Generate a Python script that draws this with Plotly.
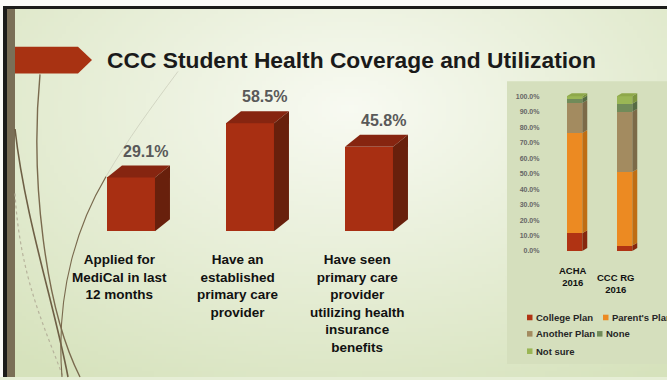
import base64
import struct
import zlib

import numpy as np
import plotly.graph_objects as go

W, H = 667, 380

# ---------------- data ----------------
categories = [
    "Applied for<br>MediCal in last<br>12 months",
    "Have an<br>established<br>primary care<br>provider",
    "Have seen<br>primary care<br>provider<br>utilizing health<br>insurance<br>benefits",
]
values = [29.1, 58.5, 45.8]
value_labels = ["29.1%", "58.5%", "45.8%"]

groups = ["ACHA<br>2016", "CCC RG<br>2016"]
series_names = ["College Plan", "Parent's Plan", "Another Plan", "None", "Not sure"]
college_plan = [11.5, 3.5]
parents_plan = [64.8, 47.5]
another_plan = [19.3, 39.0]
none_plan = [2.9, 5.2]
not_sure = [1.5, 4.8]
y2_ticks = [0, 10, 20, 30, 40, 50, 60, 70, 80, 90, 100]

# ---------------- styles ----------------
FONT = "Liberation Sans"
front_c, top_c, side_c = "#a82f12", "#862510", "#68200c"
series_front = ["#b03313", "#ec8a22", "#a38b60", "#718b59", "#9ab655"]
series_side = ["#86270e", "#bf6d14", "#7c6a48", "#566c44", "#7b943f"]
top_face = "#8ea84a"


def px(x):
    return x / W


def py(y):
    return 1 - y / H


# ---------------- background gradient image ----------------
gw, gh = 167, 95
xs = (np.arange(gw) + 0.5) / gw * W
ys = (np.arange(gh) + 0.5) / gh * H
X, Y = np.meshgrid(xs, ys)
t = np.sqrt(((X - 350) / 520) ** 2 + ((Y - 110) / 330) ** 2).clip(0, 1)
c0 = np.array([248, 250, 242], dtype=float)
c1 = np.array([214, 226, 188], dtype=float)
img = (c0[None, None, :] * (1 - t[..., None]) + c1[None, None, :] * t[..., None]).round().astype(np.uint8)


def png_bytes(arr):
    h, w, _ = arr.shape
    raw = b"".join(b"\x00" + arr[r].tobytes() for r in range(h))

    def chunk(tag, data):
        return struct.pack(">I", len(data)) + tag + data + struct.pack(">I", zlib.crc32(tag + data) & 0xFFFFFFFF)

    return (b"\x89PNG\r\n\x1a\n" + chunk(b"IHDR", struct.pack(">IIBBBBB", w, h, 8, 2, 0, 0, 0))
            + chunk(b"IDAT", zlib.compress(raw, 9)) + chunk(b"IEND", b""))


bg_src = "data:image/png;base64," + base64.b64encode(png_bytes(img)).decode()

fig = go.Figure()

# ---------------- main 3D bar chart (x / y) ----------------
bw, ddx, ddy = 0.403, 0.126, 6.45
xpos = list(range(len(values)))
fig.add_trace(go.Bar(x=xpos, y=values, width=bw, marker=dict(color=front_c, line=dict(width=0)),
                     xaxis="x", yaxis="y", showlegend=False, hoverinfo="skip"))
for i, v in zip(xpos, values):
    l, r = i - bw / 2, i + bw / 2
    fig.add_trace(go.Scatter(x=[l, r, r + ddx, l + ddx, l], y=[v, v, v + ddy, v + ddy, v],
                             fill="toself", fillcolor=top_c, mode="lines", line=dict(width=0),
                             xaxis="x", yaxis="y", showlegend=False, hoverinfo="skip"))
    fig.add_trace(go.Scatter(x=[r, r + ddx, r + ddx, r, r], y=[0, ddy, v + ddy, v, 0],
                             fill="toself", fillcolor=side_c, mode="lines", line=dict(width=0),
                             xaxis="x", yaxis="y", showlegend=False, hoverinfo="skip"))

# ---------------- stacked coverage chart (x2 / y2) ----------------
series = [college_plan, parents_plan, another_plan, none_plan, not_sure]
gpos = list(range(len(groups)))
sw, sdx, sdy = 0.31, 0.1, 1.9
for name, vals, fc in zip(series_names, series, series_front):
    fig.add_trace(go.Bar(x=gpos, y=vals, width=sw, name=name, marker=dict(color=fc, line=dict(width=0)),
                         xaxis="x2", yaxis="y2", showlegend=False, hoverinfo="skip"))
for g in gpos:
    base = 0.0
    r = g + sw / 2
    l = g - sw / 2
    for vals, sc in zip(series, series_side):
        top = base + vals[g]
        fig.add_trace(go.Scatter(x=[r, r + sdx, r + sdx, r, r], y=[base, base + sdy, top + sdy, top, base],
                                 fill="toself", fillcolor=sc, mode="lines", line=dict(width=0),
                                 xaxis="x2", yaxis="y2", showlegend=False, hoverinfo="skip"))
        base = top
    fig.add_trace(go.Scatter(x=[l, r, r + sdx, l + sdx, l], y=[base, base, base + sdy, base + sdy, base],
                             fill="toself", fillcolor=top_face, mode="lines", line=dict(width=0),
                             xaxis="x2", yaxis="y2", showlegend=False, hoverinfo="skip"))

# ---------------- annotations ----------------
ann = []
ann.append(dict(text="CCC Student Health Coverage and Utilization", x=px(105), y=py(60), xref="paper", yref="paper",
                xanchor="left", yanchor="middle", showarrow=False,
                font=dict(family=FONT, size=22.8, color="#1a1a1a", weight="bold")))
for i, v, lab in zip(xpos, values, value_labels):
    ann.append(dict(text=lab, x=i + ddx, y=v + ddy, xref="x", yref="y", xanchor="center", yanchor="bottom",
                    yshift=4, showarrow=False, font=dict(family=FONT, size=16, color="#595959", weight="bold")))
for i, c in zip(xpos, categories):
    ann.append(dict(text=c, x=i, xshift=-12, y=py(252), xref="x", yref="paper", xanchor="center", yanchor="top",
                    showarrow=False, align="center",
                    font=dict(family=FONT, size=13.5, color="#111111", weight="bold")))
for g, c, top_px, xs_ in zip(gpos, groups, [265.5, 272], [-2, -9]):
    ann.append(dict(text=c, x=g, xshift=xs_, y=py(top_px), xref="x2", yref="paper", xanchor="center",
                    yanchor="top", showarrow=False, align="center",
                    font=dict(family=FONT, size=9.5, color="#111111", weight="bold")))

# custom legend
leg_pos = [(527, 320), (603, 320), (527, 336.5), (597, 336.5), (527, 354)]
shapes = []
for name, fc, (lx, ly) in zip(series_names, series_front, leg_pos):
    shapes.append(dict(type="rect", xref="paper", yref="paper", x0=px(lx), x1=px(lx + 5.5), y0=py(ly + 2.8),
                       y1=py(ly - 2.8), fillcolor=fc, line=dict(width=0), layer="below"))
    ann.append(dict(text=name, x=px(lx + 7), y=py(ly), xref="paper", yref="paper", xanchor="left",
                    yanchor="middle", showarrow=False,
                    font=dict(family=FONT, size=9.5, color="#262626", weight="bold")))

# ---------------- decorative shapes ----------------
def rect(x0, y0, x1, y1, color):
    return dict(type="rect", xref="paper", yref="paper", x0=px(x0), x1=px(x1), y0=py(y1), y1=py(y0),
                fillcolor=color, line=dict(width=0), layer="below")


def path(pts, cmd):
    return cmd.format(*[f"{px(a):.5f},{py(b):.5f}" for a, b in pts])


shapes = [
    rect(507, 82, 667, 367, "#d5dfbd"),
    rect(0, 0, 667, 6, "#fbfbf8"),
    rect(0, 0, 3, 380, "#fbfbf8"),
    rect(3, 6, 667, 9, "#1c1c1a"),
    rect(3, 6, 7, 380, "#1c1c1a"),
    rect(7, 9, 15, 380, "#7a6f57"),
] + shapes

shapes.append(dict(type="path", xref="paper", yref="paper", layer="below",
                   path=path([(15, 47), (78, 47), (92, 60.5), (78, 74), (15, 74)], "M {} L {} L {} L {} L {} Z"),
                   fillcolor="#a83212", line=dict(width=0)))

curves = [
    ([(40, 75), (30, 180), (45, 310), (80, 380)], "#7a6a4e", 1.4, "solid"),
    ([(15, 130), (25, 220), (55, 310), (68, 380)], "#6e5f45", 1.6, "solid"),
    ([(15, 195), (20, 280), (45, 330), (63, 380)], "#b7b39c", 1.2, "dot"),
    ([(178, 72), (150, 110), (128, 140), (106, 178)], "#cfd2c0", 0.9, "solid"),
    ([(106, 178), (80, 222), (55, 290), (62, 380)], "#7a6a4e", 1.1, "solid"),
]
for pts, col, wdt, dash in curves:
    shapes.append(dict(type="path", xref="paper", yref="paper", layer="below",
                       path=path(pts, "M {} C {} {} {}"), line=dict(color=col, width=wdt, dash=dash)))

fig.update_layout(
    width=W, height=H, margin=dict(l=0, r=0, t=0, b=0),
    paper_bgcolor="#e6eed6", plot_bgcolor="rgba(0,0,0,0)",
    barmode="stack", showlegend=False,
    images=[dict(source=bg_src, xref="paper", yref="paper", x=0, y=1, sizex=1, sizey=1,
                 xanchor="left", yanchor="top", sizing="stretch", layer="below")],
    shapes=shapes, annotations=ann,
    xaxis=dict(domain=[px(71.5), px(428.5)], range=[-0.5, 2.5], visible=False, fixedrange=True),
    yaxis=dict(domain=[py(233), py(84.2)], range=[0, 80], visible=False, fixedrange=True),
    xaxis2=dict(domain=[px(549.5), px(649.5)], range=[-0.5, 1.5], visible=False, anchor="y2"),
    yaxis2=dict(domain=[py(253), py(90.76)], range=[0, 104], anchor="x2", showgrid=False, zeroline=False,
                showline=False, tickmode="array", tickvals=y2_ticks,
                ticktext=[f"{v:.1f}%" for v in y2_ticks], ticks="", ticklabelstandoff=9,
                tickfont=dict(family=FONT, size=7, color="#666666", weight="bold")),
)

fig.write_html("out.html", config={"displayModeBar": False},
               post_script="document.body.style.margin='0';document.body.style.overflow='hidden';")
